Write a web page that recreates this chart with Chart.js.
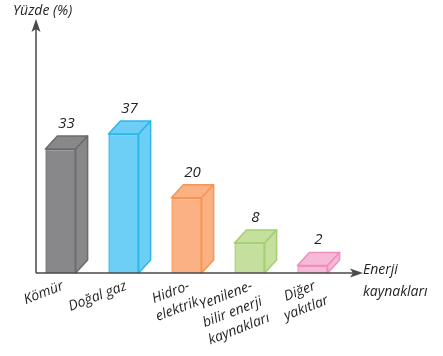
<!DOCTYPE html>
<html>
<head>
<meta charset="utf-8">
<script src="https://cdn.jsdelivr.net/npm/chart.js@4.4.1/dist/chart.umd.min.js"></script>
<style>
  html, body { margin: 0; padding: 0; background: #fff; }
  #wrap { width: 443px; height: 356px; }
</style>
</head>
<body>
<div id="wrap"><canvas id="myChart" width="443" height="356"></canvas></div>
<script>
// data
var categories = [
    ['Kömür'],
    ['Doğal gaz'],
    ['Hidro-', 'elektrik'],
    ['Yenilene-', 'bilir enerji', 'kaynakları'],
    ['Diğer', 'yakıtlar']
];
var values = [33, 37, 20, 8, 2];
var fills = ['#88888a', '#6dcff6', '#fbb183', '#c5e09e', '#f6b9d6'];
var strokes = ['#6b6b6d', '#2cb7ea', '#f79553', '#a3cf6e', '#ee8fbd'];
var yTitle = 'Yüzde (%)';
var xTitle = ['Enerji', 'kaynakları'];

var textColor = '#231f20';
var axisColor = '#4a4a4c';
var fontFamily = '"Open Sans", "Noto Sans", sans-serif';

// draw the depth faces (top + right side) of every bar
var boxPlugin = {
    id: 'box3d',
    afterDatasetsDraw: function (chart) {
        var ctx = chart.ctx;
        var meta = chart.getDatasetMeta(0);
        var dx = 12, dy = -13;
        ctx.save();
        ctx.lineJoin = 'round';
        meta.data.forEach(function (bar, i) {
            var left = bar.x - bar.width / 2;
            var right = bar.x + bar.width / 2;
            var top = bar.y;
            var base = bar.base;
            ctx.fillStyle = fills[i];
            ctx.strokeStyle = strokes[i];
            ctx.lineWidth = 1.5;
            // top face
            ctx.beginPath();
            ctx.moveTo(left, top);
            ctx.lineTo(left + dx, top + dy);
            ctx.lineTo(right + dx, top + dy);
            ctx.lineTo(right, top);
            ctx.closePath();
            ctx.fill();
            ctx.stroke();
            // side face
            ctx.beginPath();
            ctx.moveTo(right, top);
            ctx.lineTo(right + dx, top + dy);
            ctx.lineTo(right + dx, base + dy);
            ctx.lineTo(right, base);
            ctx.closePath();
            ctx.fill();
            ctx.stroke();
            // value above the box
            ctx.fillStyle = textColor;
            ctx.font = 'italic 15px ' + fontFamily;
            ctx.textAlign = 'center';
            ctx.textBaseline = 'bottom';
            ctx.fillText(String(values[i]), bar.x + dx / 2, top + dy - 5);
        });
        ctx.restore();
    }
};

// axes with arrow heads, titles and the slanted category names
var axesPlugin = {
    id: 'arrowAxes',
    afterDraw: function (chart) {
        var ctx = chart.ctx;
        var area = chart.chartArea;
        var xScale = chart.scales.x;
        var x0 = area.left + 7, y0 = area.bottom;
        var xEnd = area.right + 15;
        var yEnd = area.top - 2;
        ctx.save();
        ctx.strokeStyle = axisColor;
        ctx.fillStyle = axisColor;
        ctx.lineWidth = 1.5;
        ctx.beginPath();
        ctx.moveTo(x0, y0);
        ctx.lineTo(x0, yEnd + 6);
        ctx.moveTo(x0, y0);
        ctx.lineTo(xEnd - 6, y0);
        ctx.stroke();
        // arrow heads
        ctx.beginPath();
        ctx.moveTo(x0, yEnd - 4);
        ctx.lineTo(x0 - 4.5, yEnd + 9);
        ctx.lineTo(x0, yEnd + 6);
        ctx.lineTo(x0 + 4.5, yEnd + 9);
        ctx.closePath();
        ctx.fill();
        ctx.beginPath();
        ctx.moveTo(xEnd + 4, y0);
        ctx.lineTo(xEnd - 9, y0 - 4.5);
        ctx.lineTo(xEnd - 6, y0);
        ctx.lineTo(xEnd - 9, y0 + 4.5);
        ctx.closePath();
        ctx.fill();
        // titles
        ctx.fillStyle = textColor;
        ctx.font = 'italic 14px ' + fontFamily;
        ctx.textAlign = 'left';
        ctx.textBaseline = 'middle';
        ctx.fillText(yTitle, 13, 11);
        ctx.fillText(xTitle[0], xEnd + 4, y0 - 3);
        ctx.fillText(xTitle[1], xEnd + 4, y0 + 19);
        // category names, rotated, lines centred under the first one
        ctx.textBaseline = 'top';
        ctx.textAlign = 'center';
        categories.forEach(function (lines, i) {
            var px = xScale.getPixelForTick(i);
            ctx.save();
            ctx.translate(px, y0 + 6);
            ctx.rotate(-21 * Math.PI / 180);
            var cx = -ctx.measureText(lines[0]).width / 2;
            lines.forEach(function (line, j) {
                ctx.fillText(line, cx, j * 18);
            });
            ctx.restore();
        });
        ctx.restore();
    }
};

var config = {
    type: 'bar',
    data: {
        labels: categories,
        datasets: [{
            data: values,
            backgroundColor: fills,
            borderColor: strokes,
            borderWidth: 1.5,
            categoryPercentage: 1,
            barPercentage: 0.48
        }]
    },
    options: {
        responsive: false,
        animation: false,
        layout: {
            padding: { left: 29, right: 99, top: 25, bottom: 0 }
        },
        plugins: {
            legend: { display: false },
            tooltip: { enabled: false }
        },
        scales: {
            x: {
                grid: { display: false },
                border: { display: false },
                ticks: { display: false },
                afterFit: function (scale) {
                    scale.height = 83;
                }
            },
            y: {
                display: false,
                min: 0,
                max: 66
            }
        }
    },
    plugins: [boxPlugin, axesPlugin]
};

var myChart = new Chart(document.getElementById('myChart'), config);
</script>
</body>
</html>
